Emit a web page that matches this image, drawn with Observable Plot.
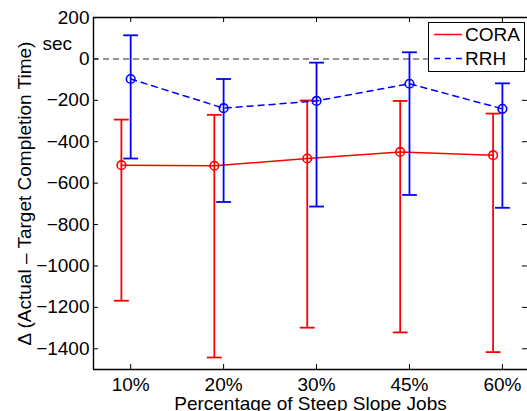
<!DOCTYPE html>
<html>
<head>
<meta charset="utf-8">
<script src="https://cdn.jsdelivr.net/npm/d3@7"></script>
<script src="https://cdn.jsdelivr.net/npm/@observablehq/plot@0.6"></script>
<style>
  html, body { margin: 0; padding: 0; background: #fff; }
  #chart svg { display: block; }
</style>
</head>
<body>
<div id="chart"></div>
<script>
// ---- data ----
const categories = ["10%", "20%", "30%", "45%", "60%"];
const coraMean  = [-513, -516, -481, -449, -465];
const coraUpper = [-293, -270, -201, -203, -264];
const coraLower = [-1168, -1442, -1298, -1321, -1416];
const rrhMean  = [-97, -238, -203, -120, -241];
const rrhUpper = [114, -97, -18, 32, -118];
const rrhLower = [-481, -691, -713, -657, -719];
const yTicks = [200, 0, -200, -400, -600, -800, -1000, -1200, -1400];

const CORA_OFFSET = -0.1;
const CAP = 0.08;

const cora = categories.map((c, i) => ({x: i + 1 + CORA_OFFSET, m: coraMean[i], lo: coraLower[i], hi: coraUpper[i]}));
const rrh = categories.map((c, i) => ({x: i + 1, m: rrhMean[i], lo: rrhLower[i], hi: rrhUpper[i]}));

const W = 527, H = 411;
const mL = 93, mR = 0, mT = 17, mB = 42;
const pw = W - mL - mR, ph = H - mT - mB;
const font = "Liberation Sans, Arial, Helvetica, sans-serif";
const FS = 19;

function series(data, color, dash) {
  return [
    Plot.line(data, {x: "x", y: "m", stroke: color, strokeWidth: 1.5, strokeDasharray: dash}),
    Plot.ruleX(data, {x: "x", y1: "lo", y2: "hi", stroke: color, strokeWidth: 1.8}),
    Plot.link(data, {x1: d => d.x - CAP, x2: d => d.x + CAP, y1: "hi", y2: "hi", stroke: color, strokeWidth: 1.8}),
    Plot.link(data, {x1: d => d.x - CAP, x2: d => d.x + CAP, y1: "lo", y2: "lo", stroke: color, strokeWidth: 1.8}),
    Plot.dot(data, {x: "x", y: "m", r: 4.3, stroke: color, strokeWidth: 1.6, fill: "none"})
  ];
}

const chart = Plot.plot({
  width: W, height: H,
  marginLeft: mL, marginRight: mR, marginTop: mT, marginBottom: mB,
  style: {fontFamily: font, fontSize: FS + "px", color: "#000", background: "#fff"},
  x: {type: "linear", domain: [0.6, 5.27], axis: null},
  y: {domain: [-1500, 200], axis: null},
  marks: [
    Plot.ruleY([0], {stroke: "#707070", strokeWidth: 1.5, strokeDasharray: "6,4"}),
    Plot.tickY(yTicks, {y: d => d, insetRight: pw - 5, stroke: "#000", strokeWidth: 1}),
    Plot.tickY(yTicks, {y: d => d, insetLeft: pw - 5, stroke: "#000", strokeWidth: 1}),
    Plot.tickX(d3.range(1, categories.length + 1), {x: d => d, insetTop: ph - 5, stroke: "#000", strokeWidth: 1}),
    Plot.tickX(d3.range(1, categories.length + 1), {x: d => d, insetBottom: ph - 5, stroke: "#000", strokeWidth: 1}),
    Plot.ruleX([0.6], {stroke: "#000", strokeWidth: 1.4}),
    Plot.ruleY([200], {stroke: "#000", strokeWidth: 1.4}),
    Plot.ruleY([-1500], {stroke: "#000", strokeWidth: 1.4}),
    Plot.text(yTicks, {x: 0.6, y: d => d, text: d => d3.format("d")(d), textAnchor: "end", dx: -4, fontSize: FS, fill: "#000"}),
    Plot.text(categories, {x: (d, i) => i + 1, y: -1500, text: d => d, dy: 21, lineAnchor: "bottom", fontSize: FS, fill: "#000"}),
    ...series(cora, "#ff0000", null),
    ...series(rrh, "#0000ff", "6,5"),
    Plot.text(["Percentage of Steep Slope Jobs"], {frameAnchor: "bottom", dy: 40, lineAnchor: "bottom", textAnchor: "middle", fontSize: FS, fill: "#000"}),
    Plot.text(["Δ (Actual – Target Completion Time)"], {frameAnchor: "left", dx: -63, dy: 0, rotate: -90, textAnchor: "middle", lineAnchor: "bottom", fontSize: FS, fill: "#000"}),
    Plot.text(["sec"], {frameAnchor: "top-left", dx: -51, dy: 32, textAnchor: "start", lineAnchor: "bottom", fontSize: FS, fill: "#000"})
  ]
});

document.getElementById("chart").appendChild(chart);

// legend inside the plot area
const svg = d3.select(chart);
const lg = svg.append("g").attr("text-anchor", "start")
  .style("font-family", font).style("font-size", FS + "px");
lg.append("rect").attr("x", 428.5).attr("y", 22.5).attr("width", 96).attr("height", 49)
  .attr("fill", "#fff").attr("stroke", "#000").attr("stroke-width", 1);
const legendItems = [
  {name: "CORA", color: "#ff0000", dash: null},
  {name: "RRH", color: "#0000ff", dash: "6,5"}
];
legendItems.forEach((it, i) => {
  const y = 34.5 + i * 24;
  lg.append("line").attr("x1", 434).attr("x2", 462).attr("y1", y).attr("y2", y)
    .attr("stroke", it.color).attr("stroke-width", 1.5).attr("stroke-dasharray", it.dash);
  lg.append("text").attr("x", 465).attr("y", y).attr("dy", "0.35em").attr("text-anchor", "start")
    .attr("fill", "#000").style("font-size", FS + "px").text(it.name);
});
</script>
</body>
</html>
